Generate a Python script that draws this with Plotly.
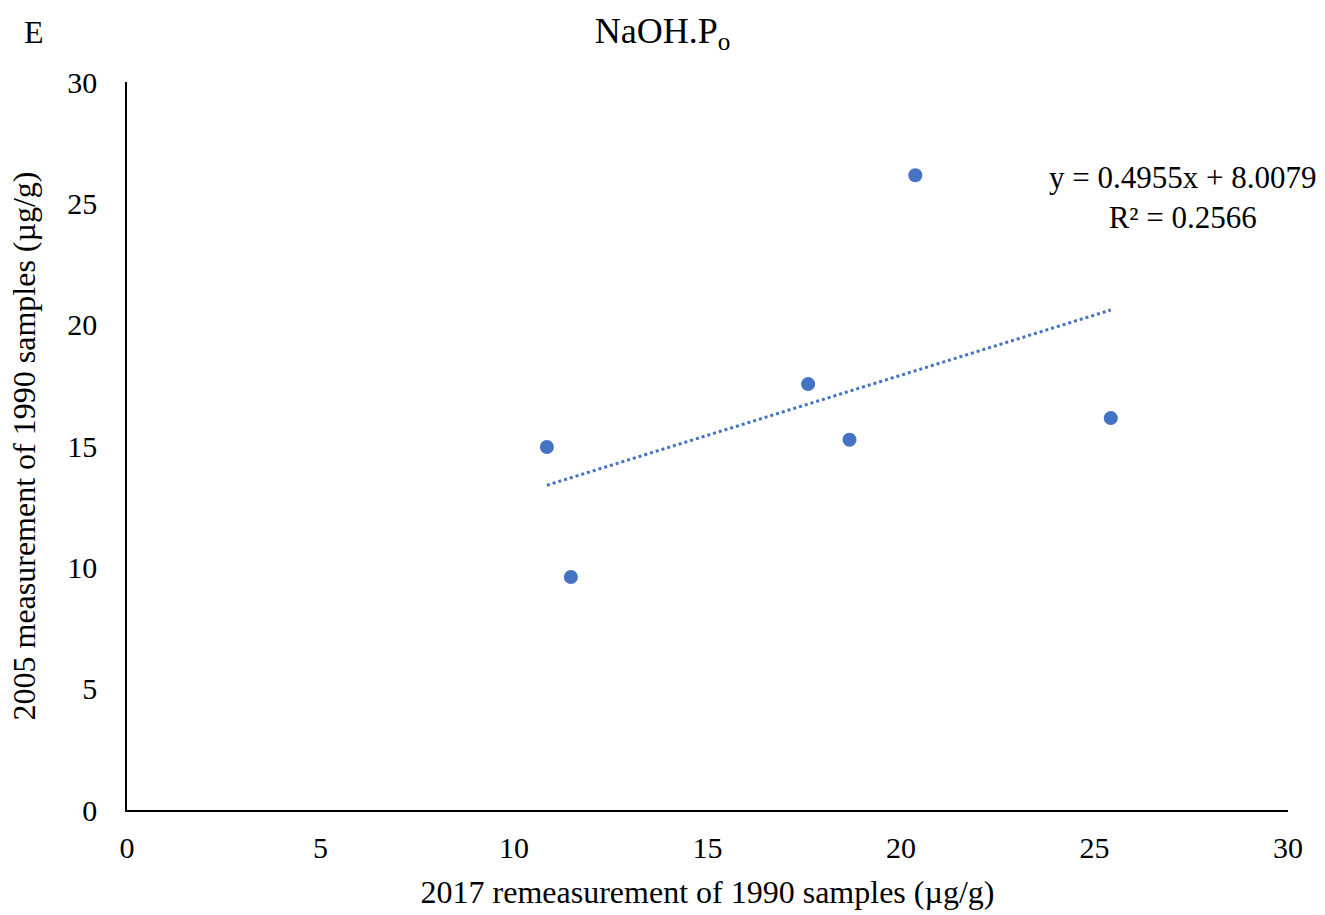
import plotly.graph_objects as go

# Data
x_2017 = [10.85, 11.47, 17.60, 18.67, 20.37, 25.42]
y_2005 = [14.96, 9.60, 17.55, 15.26, 26.16, 16.15]
slope = 0.4955
intercept = 8.0079
r2 = 0.2566
x_ticks = [0, 5, 10, 15, 20, 25, 30]
y_ticks = [0, 5, 10, 15, 20, 25, 30]

blue = "#4472C4"
font_family = "Liberation Serif, Times New Roman, serif"

x_fit = [min(x_2017), max(x_2017)]
y_fit = [slope * v + intercept for v in x_fit]

fig = go.Figure()
fig.add_trace(go.Scatter(x=x_fit, y=y_fit, mode="lines",
                         line=dict(color=blue, width=3, dash="dot"),
                         showlegend=False, hoverinfo="skip"))
fig.add_trace(go.Scatter(x=x_2017, y=y_2005, mode="markers",
                         marker=dict(color=blue, size=14),
                         showlegend=False))

fig.add_annotation(x=0.9087, y=0.8407, xref="paper", yref="paper",
                   text=f"y = {slope:.4f}x + {intercept:.4f}<br>R² = {r2:.4f}",
                   showarrow=False, align="center",
                   xanchor="center", yanchor="middle",
                   font=dict(family=font_family, size=31, color="black"))

fig.add_annotation(x=-0.0904, y=1.069, xref="paper", yref="paper",
                   xanchor="left", yanchor="middle", showarrow=False,
                   text="E", font=dict(family=font_family, size=32, color="black"))

fig.update_layout(
    width=1325, height=915,
    paper_bgcolor="white", plot_bgcolor="white",
    margin=dict(l=127, r=37, t=82, b=105),
    font=dict(family=font_family, size=30, color="black"),
    title=dict(text="NaOH.P<sub>o</sub>", x=0.5, xanchor="center",
               y=0.967, yanchor="middle",
               font=dict(family=font_family, size=36, color="black")),
)
fig.update_xaxes(range=[0, 30], tickvals=x_ticks, ticktext=[str(v) for v in x_ticks],
                 showgrid=False, zeroline=False, showline=True,
                 linecolor="black", linewidth=2, ticks="", ticklen=0,
                 ticklabelstandoff=10,
                 tickfont=dict(size=30),
                 title=dict(text="2017 remeasurement of 1990 samples (µg/g)",
                            font=dict(size=32), standoff=18))
fig.update_yaxes(range=[0, 30], tickvals=y_ticks, ticktext=[str(v) for v in y_ticks],
                 showgrid=False, zeroline=False, showline=True,
                 linecolor="black", linewidth=1.5, ticks="", ticklen=0,
                 ticklabelstandoff=22,
                 tickfont=dict(size=30),
                 title=dict(text="2005 measurement of 1990 samples (µg/g)",
                            font=dict(size=32), standoff=22))

fig.write_html("out.html")
